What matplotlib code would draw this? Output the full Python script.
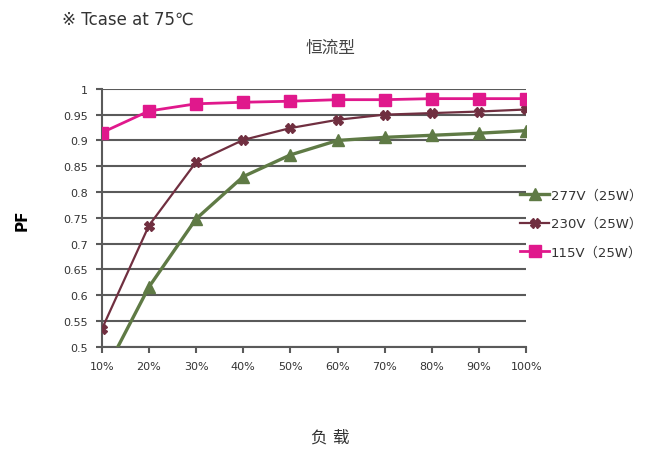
import numpy as np
import matplotlib.pyplot as plt

plt.rcParams['font.family'] = ['DejaVu Sans', 'Noto Sans CJK SC']

# carga (%)
load = [10, 20, 30, 40, 50, 60, 70, 80, 90, 100]
load_labels = ['10%', '20%', '30%', '40%', '50%', '60%', '70%', '80%', '90%', '100%']

pf_277 = [0.44, 0.616, 0.748, 0.830, 0.872, 0.900, 0.906, 0.910, 0.914, 0.919]
pf_230 = [0.534, 0.735, 0.858, 0.901, 0.924, 0.940, 0.950, 0.953, 0.956, 0.960]
pf_115 = [0.915, 0.957, 0.971, 0.974, 0.976, 0.979, 0.979, 0.981, 0.981, 0.981]

names = ['277V（25W）', '230V（25W）', '115V（25W）']

fig = plt.figure(figsize=(6.48, 4.56), dpi=100)
ax = fig.add_axes([0.157, 0.237, 0.655, 0.566])

grid_col = '#5a5a5a'
yt = np.arange(0.5, 1.001, 0.05)
for y in yt:
    ax.axhline(y, color=grid_col, lw=1.5, zorder=1)

l1, = ax.plot(load, pf_277, color='#5f7a45', lw=2.4, marker='^', ms=9, zorder=3)
l2, = ax.plot(load, pf_230, color='#702f40', lw=1.6, marker='X', ms=7, zorder=4)
l3, = ax.plot(load, pf_115, color='#e0188c', lw=2.0, marker='s', ms=9, zorder=5)

ax.set_xlim(10, 100)
ax.set_ylim(0.5, 1.0)
ax.set_xticks(load)
ax.set_xticklabels(load_labels, fontsize=8, color='#333333')
ax.set_yticks(yt)
ax.set_yticklabels(['0.5', '0.55', '0.6', '0.65', '0.7', '0.75', '0.8', '0.85', '0.9', '0.95', '1'],
                   fontsize=8, color='#333333')
ax.tick_params(axis='both', length=4, width=1.5, color=grid_col, pad=6)
for s in ['top', 'right']:
    ax.spines[s].set_visible(False)
ax.spines['left'].set_color(grid_col)
ax.spines['left'].set_linewidth(1.5)
ax.spines['bottom'].set_color(grid_col)
ax.spines['bottom'].set_linewidth(1.5)

fig.text(0.034, 0.518, 'PF', fontsize=11, fontweight='bold', rotation=90,
         ha='center', va='center')
fig.text(0.51, 0.03, '负 载', fontsize=12, color='#333333', ha='center')
fig.text(0.51, 0.885, '恒流型', fontsize=12, color='#444444', ha='center')
fig.text(0.095, 0.945, '※ Tcase at 75℃', fontsize=12, color='#333333')

leg = fig.legend([l1, l2, l3], names, loc='upper left', bbox_to_anchor=(0.795, 0.595),
                 frameon=False, fontsize=9.5, handlelength=2.2, handletextpad=0.1,
                 labelspacing=1.15, borderaxespad=0)
for t in leg.get_texts():
    t.set_color('#333333')

fig.savefig('out.png', dpi=100)
